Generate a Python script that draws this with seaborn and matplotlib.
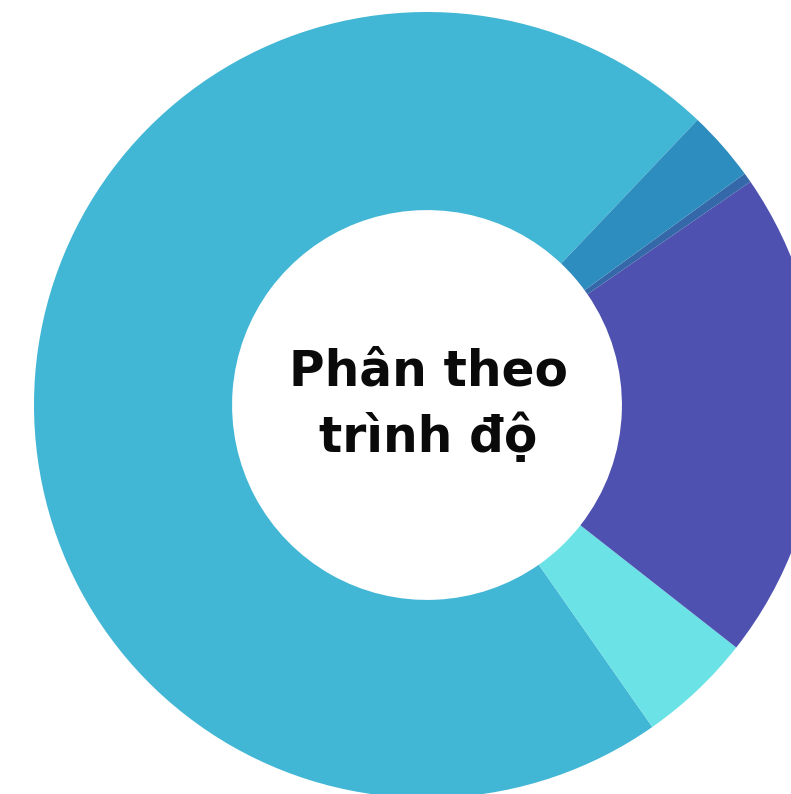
import matplotlib
matplotlib.use("Agg")
import matplotlib.pyplot as plt
import seaborn as sns

# Data (shares, percent)
categories = ["Nhóm 1", "Nhóm 2", "Nhóm 3", "Nhóm 4", "Nhóm 5"]
values = [71.8, 4.7, 20.2, 0.4, 2.9]
colors = ["#41B6D5", "#6BE2E6", "#4E51B0", "#3468A8", "#2E8DBF"]
center_lines = ["Phân theo", "trình độ"]

sns.set_theme(style="white")
plt.rcParams["font.family"] = ["DejaVu Sans"]

fig = plt.figure(figsize=(7.91, 7.94), dpi=100)
ax = fig.add_axes([0, 0, 1, 1])
ax.pie(values, colors=colors, startangle=46.5, counterclock=True,
       radius=1.0, wedgeprops=dict(width=0.504, edgecolor="none", linewidth=0))

R = 393.0
cx, cy = 427.0, 405.0
W, H = 791.0, 794.0
ax.set_xlim(-cx / R, (W - cx) / R)
ax.set_ylim(-(H - cy) / R, cy / R)
ax.set_aspect("auto")
ax.axis("off")

ax.text(0.003, (cy - 385) / R, center_lines[0], ha="center", va="baseline",
        fontsize=35, fontweight="bold", color="#0a0a0a")
ax.text(0.003, (cy - 452) / R, center_lines[1], ha="center", va="baseline",
        fontsize=35, fontweight="bold", color="#0a0a0a")

fig.savefig("out.png", dpi=100, facecolor="white")
